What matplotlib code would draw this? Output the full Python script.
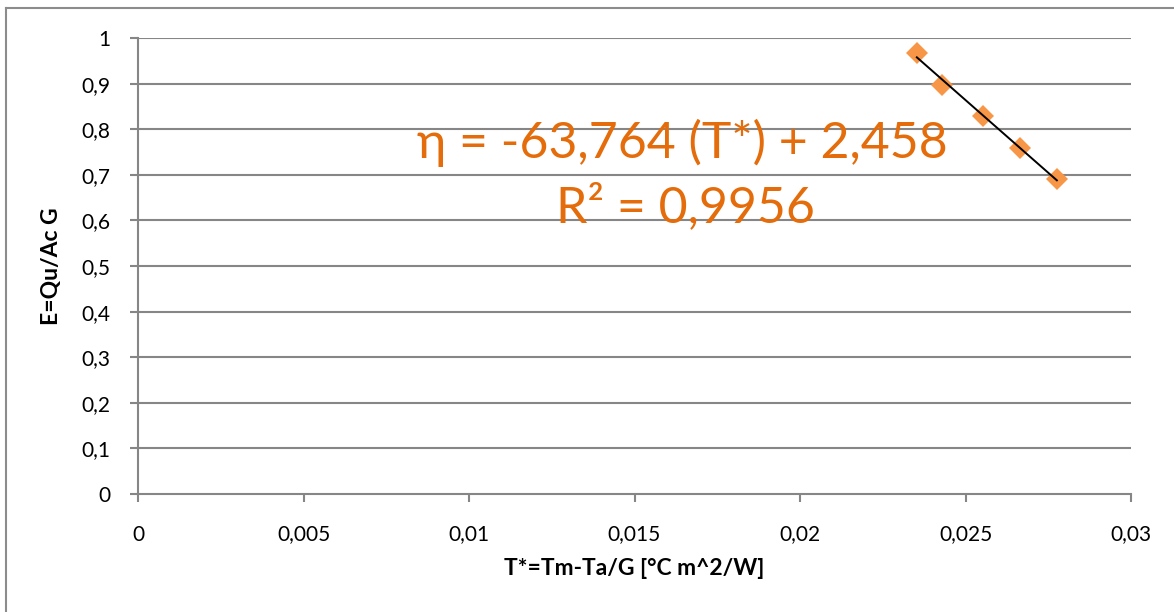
import numpy as np
import matplotlib.pyplot as plt
from matplotlib.ticker import FixedLocator

# collector test points
t_star = [0.02353, 0.02429, 0.02553, 0.02665, 0.02776]
eff = [0.967, 0.897, 0.829, 0.759, 0.691]

# linear trend reported on the chart
slope, intercept, r2 = -63.764, 2.458, 0.9956

x_ticks = [0, 0.005, 0.01, 0.015, 0.02, 0.025, 0.03]
y_ticks = [0, 0.1, 0.2, 0.3, 0.4, 0.5, 0.6, 0.7, 0.8, 0.9, 1]

def comma(v):
    return ('%g' % v).replace('.', ',')

plt.rcParams['font.family'] = ['Lato', 'DejaVu Sans']

fig = plt.figure(figsize=(11.74, 6.12), dpi=100)
ax = fig.add_axes([138 / 1174, 118 / 612, 993 / 1174, 456 / 612])

# chart area border (left, top)
fig.add_artist(plt.Line2D([6 / 1174, 6 / 1174], [0, 1 - 8 / 612],
                          transform=fig.transFigure, color='#8c8c8c', lw=1.5))
fig.add_artist(plt.Line2D([6 / 1174, 1], [1 - 8 / 612, 1 - 8 / 612],
                          transform=fig.transFigure, color='#8c8c8c', lw=1.5))

grid_c = '#868686'
for y in y_ticks[1:]:
    ax.axhline(y, color=grid_c, lw=1.5, zorder=1)

ax.set_xlim(0, 0.03)
ax.set_ylim(0, 1)
ax.xaxis.set_major_locator(FixedLocator(x_ticks))
ax.yaxis.set_major_locator(FixedLocator(y_ticks))
ax.set_xticklabels([comma(v) for v in x_ticks])
ax.set_yticklabels([comma(v) for v in y_ticks])

for side in ['top', 'right']:
    ax.spines[side].set_visible(False)
for side in ['left', 'bottom']:
    ax.spines[side].set_color(grid_c)
    ax.spines[side].set_linewidth(1.5)
ax.tick_params(axis='both', colors=grid_c, width=1.5, length=6,
               labelcolor='black', labelsize=15)
ax.tick_params(axis='x', pad=16)
ax.tick_params(axis='y', pad=14)

# trend line over the data range
xs = np.array([min(t_star), max(t_star)])
ax.plot(xs, slope * xs + intercept, color='black', lw=1.4, zorder=3)
ax.plot(t_star, eff, linestyle='none', marker='D', markersize=11,
        color='#F79646', markeredgewidth=0, zorder=2)

orange = '#E46C0A'
ax.text(0.01643, 0.770, 'η = %s (T*) + %s' % (comma(slope), comma(intercept)),
        color=orange, fontsize=36, ha='center', va='center', zorder=4)
ax.text(0.01653, 0.629, 'R² = %s' % comma(r2),
        color=orange, fontsize=36, ha='center', va='center', zorder=4)

ax.set_xlabel('T*=Tm-Ta/G [°C m^2/W]', fontsize=16.5, fontweight='bold', labelpad=10)
ax.set_ylabel('E=Qu/Ac G', fontsize=16.5, fontweight='bold', labelpad=14)

fig.savefig('out.png', dpi=100)
